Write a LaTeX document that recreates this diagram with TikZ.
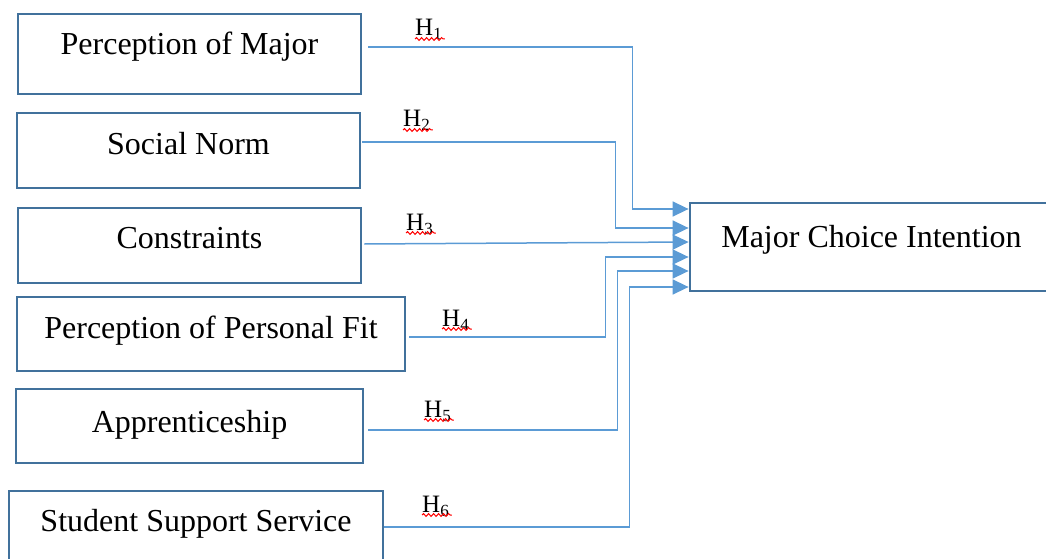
\documentclass[tikz,border=0pt]{standalone}
\usepackage{fontspec}
\setmainfont{Liberation Serif}
\usetikzlibrary{arrows.meta,calc,decorations.pathmorphing}
\definecolor{boxblue}{HTML}{41719C}
\definecolor{lineblue}{HTML}{5B9BD5}
\newcommand\Hlab[1]{H\raisebox{-4pt}{\fontsize{17}{18}\selectfont #1}}
\begin{document}
\begin{tikzpicture}[x=1pt,y=-1pt,
  box/.style={draw=boxblue,line width=2.8pt,inner xsep=0pt,inner ysep=0pt,anchor=base,
    font=\fontsize{32}{38}\selectfont},
  conn/.style={draw=lineblue,line width=1.5pt,-{Triangle[length=16pt,width=15pt,fill=lineblue]}},
  hlabel/.style={anchor=base west,inner sep=0pt,font=\fontsize{25}{30}\selectfont},
  wavy/.style={draw=red,line width=1pt,decorate,decoration={snake,amplitude=1.4pt,segment length=5pt}}]
\useasboundingbox (0,0) rectangle (1046,559);
\clip (0,0) rectangle (1046,559);
% boxes
\node[box,minimum width=343pt,text height=41pt,text depth=39pt] (pm) at (189.5,55) {Perception of Major};
\node[box,minimum width=343pt,text height=41pt,text depth=34pt] (sn) at (188.5,154) {Social Norm};
\node[box,minimum width=343pt,text height=40pt,text depth=35pt] (cons) at (189.5,248) {Constraints};
\node[box,minimum width=388pt,text height=41pt,text depth=33pt] (ppf) at (211,338) {Perception of Personal Fit};
\node[box,minimum width=347pt,text height=43pt,text depth=31pt] (app) at (189.5,432) {Apprenticeship};
\node[box,minimum width=374pt,text height=40pt,text depth=35pt] (sss) at (196,531) {Student Support Service};
\node[box,minimum width=363pt,text height=44pt,text depth=44pt] (mci) at (871.5,247) {Major Choice Intention};
% arrow targets
\coordinate (t1) at ($(mci.west)+(0,-38)$);
\coordinate (t2) at ($(mci.west)+(0,-19)$);
\coordinate (t3) at ($(mci.west)+(0,-5)$);
\coordinate (t4) at ($(mci.west)+(0,10)$);
\coordinate (t5) at ($(mci.west)+(0,24)$);
\coordinate (t6) at ($(mci.west)+(0,40)$);
% connectors
\draw[conn] ($(pm.east)+(6,-7)$) -| ([xshift=-56pt]t1) -- (t1);
\draw[conn] ($(sn.east)+(1,-8.5)$) -| ([xshift=-73pt]t2) -- (t2);
\draw[conn] ($(cons.east)+(2,-1.5)$) -- (t3);
\draw[conn] ($(ppf.east)+(3,3)$) -| ([xshift=-83pt]t4) -- (t4);
\draw[conn] ($(app.east)+(4,4)$) -| ([xshift=-71pt]t5) -- (t5);
\draw[conn] ($(sss.east)+(0,-1.5)$) -| ([xshift=-59pt]t6) -- (t6);
% labels
\node[hlabel] (h1) at (415,36) {\Hlab{1}};
\node[hlabel] (h2) at (403,127) {\Hlab{2}};
\node[hlabel] (h3) at (406,230) {\Hlab{3}};
\node[hlabel] (h4) at (442,326) {\Hlab{4}};
\node[hlabel] (h5) at (424,417) {\Hlab{5}};
\node[hlabel] (h6) at (422,512) {\Hlab{6}};
\foreach \h in {h1,h2,h3,h4,h5,h6}{
  \draw[wavy] ($(\h.base west)+(0,3)$) -- ($(\h.base east)+(3,3)$);
}
\end{tikzpicture}
\end{document}
